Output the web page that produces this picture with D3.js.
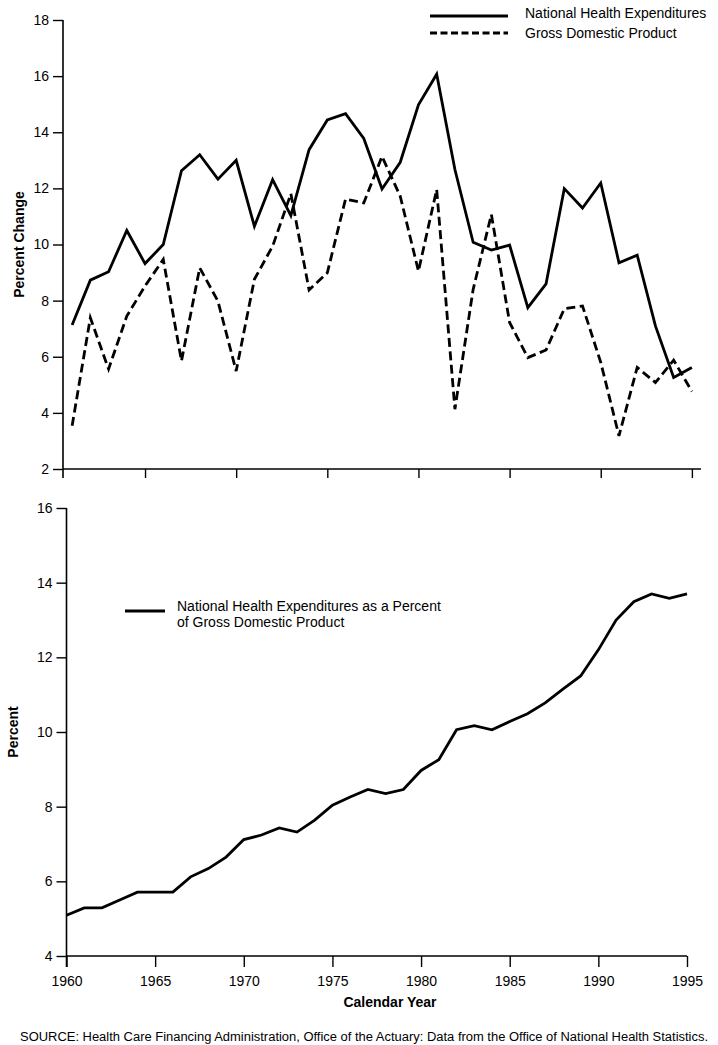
<!DOCTYPE html>
<html>
<head>
<meta charset="utf-8">
<script src="https://cdn.jsdelivr.net/npm/d3@7"></script>
<style>
  html, body { margin: 0; padding: 0; background: #fff; }
  svg { display: block; font-family: "Liberation Sans", Arial, Helvetica, sans-serif; }
</style>
</head>
<body>
<svg id="chart" width="718" height="1045"></svg>
<script>
// ---- Data ----
const growthYears = d3.range(1961, 1996);
const nheGrowth = [7.13, 8.73, 9.03, 10.5, 9.32, 10.0, 12.63, 13.2, 12.33, 13.0, 10.65, 12.31, 11.03, 13.38, 14.44, 14.66, 13.78, 11.98, 12.93, 14.98, 16.07, 12.67, 10.08, 9.8, 9.98, 7.75, 8.6, 11.99, 11.3, 12.19, 9.35, 9.62, 7.1, 5.26, 5.62];
const gdpGrowth = [3.54, 7.39, 5.56, 7.45, 8.52, 9.47, 5.85, 9.17, 7.98, 5.49, 8.76, 9.94, 11.81, 8.38, 8.99, 11.62, 11.48, 13.14, 11.72, 9.05, 11.96, 4.13, 8.4, 11.07, 7.22, 5.97, 6.24, 7.71, 7.81, 5.8, 3.18, 5.62, 5.08, 5.88, 4.76];
const shareYears = d3.range(1960, 1996);
const nhePctGdp = [5.09, 5.29, 5.29, 5.5, 5.71, 5.71, 5.71, 6.12, 6.34, 6.65, 7.12, 7.24, 7.43, 7.32, 7.64, 8.04, 8.26, 8.46, 8.35, 8.46, 8.97, 9.26, 10.06, 10.17, 10.06, 10.28, 10.49, 10.78, 11.15, 11.5, 12.2, 13.0, 13.49, 13.7, 13.58, 13.7];
const topYTicks = [2, 4, 6, 8, 10, 12, 14, 16, 18];
const bottomYTicks = [4, 6, 8, 10, 12, 14, 16];
const xTicks = [1960, 1965, 1970, 1975, 1980, 1985, 1990, 1995];
const topLegend = ["National Health Expenditures", "Gross Domestic Product"];
const bottomLegend = ["National Health Expenditures as a Percent", "of Gross Domestic Product"];
const xTitle = "Calendar Year";
const topYTitle = "Percent Change";
const bottomYTitle = "Percent";
const source = "SOURCE: Health Care Financing Administration, Office of the Actuary: Data from the Office of National Health Statistics.";

// ---- Chart ----
const svg = d3.select("#chart");
const ink = "#000";

// Top panel
const xTop = d3.scaleLinear().domain([1960.5, 1995.5]).range([63, 701]);
const yTop = d3.scaleLinear().domain([2, 18]).range([469, 20]);

const gTop = svg.append("g");
// y axis
const yAxisTop = gTop.append("g").attr("transform", `translate(${xTop(1960.5)},0)`)
  .call(d3.axisLeft(yTop).tickValues(topYTicks).tickSize(10).tickPadding(4).tickFormat(d3.format("d")));
yAxisTop.select(".domain").remove();
yAxisTop.append("line").attr("x1", 0).attr("x2", 0).attr("y1", yTop(18)).attr("y2", yTop(2) + 9)
  .attr("stroke", ink).attr("stroke-width", 1.6);
// x axis
const xAxisTop = gTop.append("g").attr("transform", `translate(0,${yTop(2)})`)
  .call(d3.axisBottom(xTop).tickValues(xTicks.slice(1)).tickSize(9).tickFormat(""));
xAxisTop.select(".domain").attr("d", `M${xTop(1960.5)},0H${xTop(1995.5)}`).attr("stroke-width", 1.4);

[yAxisTop, xAxisTop].forEach(a => {
  a.selectAll(".tick line").attr("stroke", ink).attr("stroke-width", 1.4);
  a.selectAll("text").attr("fill", ink).style("font-size", "14px").style("font-family", "'Liberation Sans', Arial, sans-serif");
});

const lineTopN = d3.line().x((d, i) => xTop(growthYears[i])).y(d => yTop(d));
gTop.append("path").datum(nheGrowth).attr("d", lineTopN)
  .attr("fill", "none").attr("stroke", ink).attr("stroke-width", 2.8).attr("stroke-linejoin", "miter");
gTop.append("path").datum(gdpGrowth).attr("d", lineTopN)
  .attr("fill", "none").attr("stroke", ink).attr("stroke-width", 2.8).attr("stroke-dasharray", "9,4.5");

gTop.append("text").attr("transform", `translate(24,${yTop(10)}) rotate(-90)`)
  .attr("text-anchor", "middle").style("font-size", "14px").style("font-weight", "bold").text(topYTitle);

// top legend
const legTop = gTop.append("g");
legTop.append("line").attr("x1", 430).attr("x2", 508).attr("y1", 16).attr("y2", 16)
  .attr("stroke", ink).attr("stroke-width", 2.8);
legTop.append("line").attr("x1", 430).attr("x2", 508).attr("y1", 33).attr("y2", 33)
  .attr("stroke", ink).attr("stroke-width", 2.8).attr("stroke-dasharray", "7,3.5");
legTop.selectAll("text").data(topLegend).join("text")
  .attr("x", 525).attr("y", (d, i) => 18 + i * 20).style("font-size", "14px").text(d => d);

// Bottom panel
const xBot = d3.scaleLinear().domain([1960, 1995]).range([66.5, 687]);
const yBot = d3.scaleLinear().domain([4, 16]).range([956, 508]);
const gBot = svg.append("g");

const yAxisBot = gBot.append("g").attr("transform", `translate(${xBot(1960)},0)`)
  .call(d3.axisLeft(yBot).tickValues(bottomYTicks).tickSize(10).tickPadding(4).tickFormat(d3.format("d")));
yAxisBot.select(".domain").remove();
yAxisBot.append("line").attr("x1", 0).attr("x2", 0).attr("y1", yBot(16)).attr("y2", yBot(4) + 11)
  .attr("stroke", ink).attr("stroke-width", 1.6);

const xAxisBot = gBot.append("g").attr("transform", `translate(0,${yBot(4)})`)
  .call(d3.axisBottom(xBot).tickValues(xTicks).tickSize(11).tickPadding(9).tickFormat(d3.format("d")));
xAxisBot.select(".domain").attr("d", `M${xBot(1960)},0H${xBot(1995)}`).attr("stroke-width", 1.4);

[yAxisBot, xAxisBot].forEach(a => {
  a.selectAll(".tick line").attr("stroke", ink).attr("stroke-width", 1.4);
  a.selectAll("text").attr("fill", ink).style("font-size", "14px").style("font-family", "'Liberation Sans', Arial, sans-serif");
});

const lineBot = d3.line().x((d, i) => xBot(shareYears[i])).y(d => yBot(d));
gBot.append("path").datum(nhePctGdp).attr("d", lineBot)
  .attr("fill", "none").attr("stroke", ink).attr("stroke-width", 2.8).attr("stroke-linejoin", "miter");

gBot.append("text").attr("transform", `translate(18,${yBot(10)}) rotate(-90)`)
  .attr("text-anchor", "middle").style("font-size", "14px").style("font-weight", "bold").text(bottomYTitle);

// bottom legend
gBot.append("line").attr("x1", 125).attr("x2", 165).attr("y1", 611).attr("y2", 611)
  .attr("stroke", ink).attr("stroke-width", 2.8);
gBot.selectAll("text.leg").data(bottomLegend).join("text").attr("class", "leg")
  .attr("x", 177).attr("y", (d, i) => 611 + i * 16).style("font-size", "14px").text(d => d);

// x title and source
svg.append("text").attr("x", 390).attr("y", 1007).attr("text-anchor", "middle")
  .style("font-size", "14px").style("font-weight", "bold").text(xTitle);
svg.append("text").attr("x", 364).attr("y", 1041).attr("text-anchor", "middle")
  .style("font-size", "12px").attr("textLength", 688).attr("lengthAdjust", "spacingAndGlyphs").text(source);
</script>
</body>
</html>
